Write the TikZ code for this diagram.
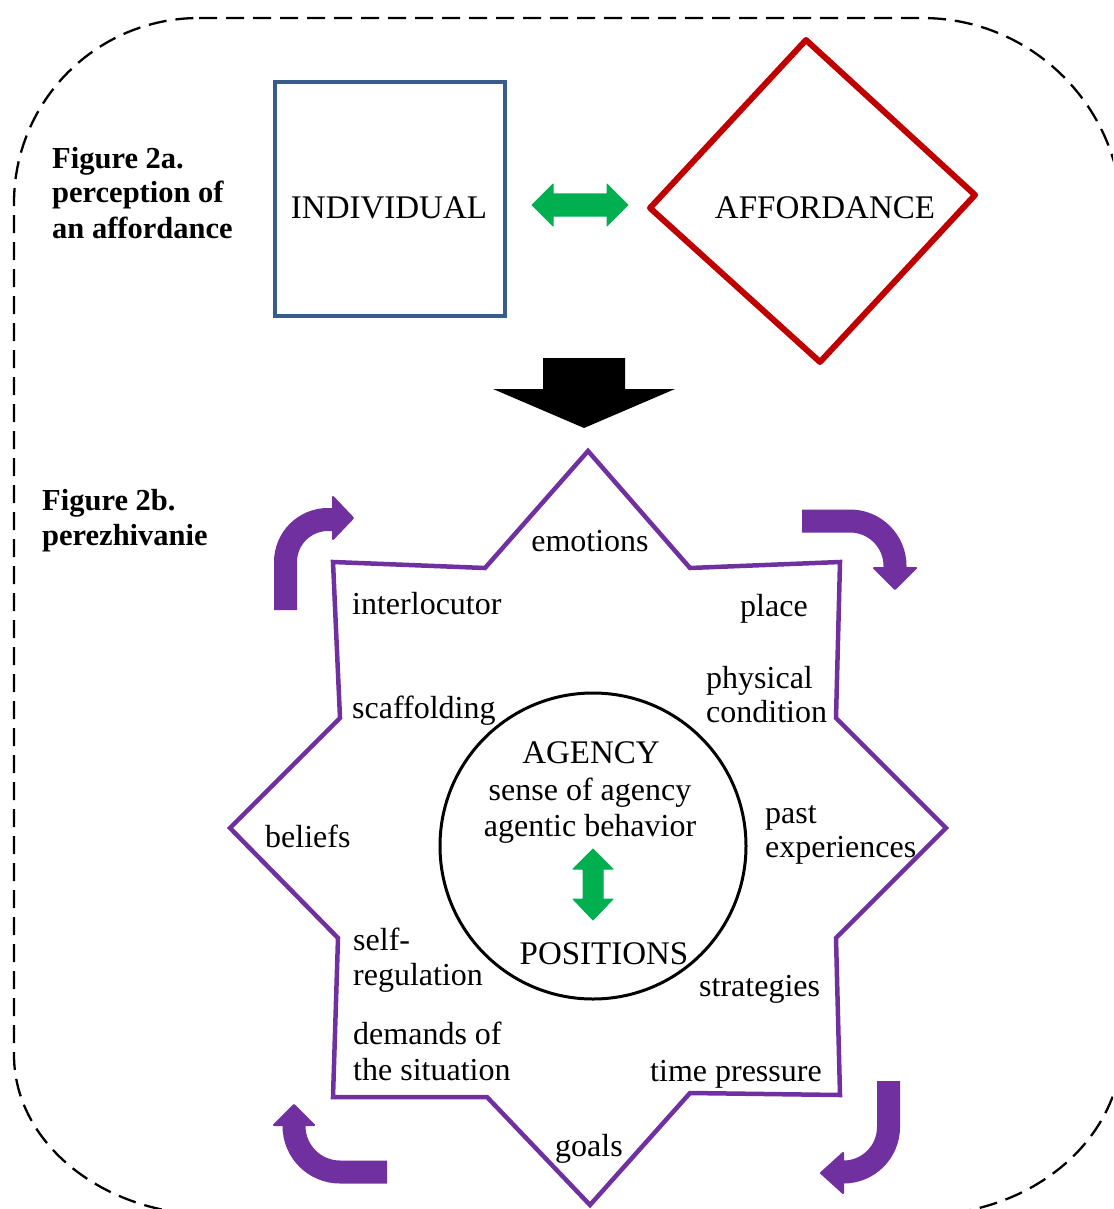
\documentclass[tikz,border=0pt]{standalone}
\usepackage{fontspec}
\setmainfont{Liberation Serif}
\definecolor{pur}{HTML}{7030A0}
\definecolor{grn}{HTML}{00B050}
\definecolor{blu}{HTML}{385D8A}
\definecolor{rd}{HTML}{C00000}
\tikzset{
  txt/.style={font=\fontsize{32}{35}\selectfont, inner sep=0pt, anchor=base west},
  ctxt/.style={font=\fontsize{32}{35}\selectfont, inner sep=0pt, anchor=base},
  btxt/.style={font=\fontsize{30.5}{35}\selectfont\bfseries, inner sep=0pt, anchor=base west},
  captxt/.style={font=\fontsize{33}{35}\selectfont, inner sep=0pt, anchor=base},
  shaft/.style={pur, line width=23pt},
  head/.style={fill=pur, draw=pur, line width=2pt, line join=round},
  garrow/.style={fill=grn, draw=grn, line width=1pt, line join=round}
}
\begin{document}
\begin{tikzpicture}[x=1pt,y=-1pt]
\useasboundingbox (0,0) rectangle (1113,1209);
\clip (0,0) rectangle (1113,1209);
% dashed frame
\draw[black, line width=2.3pt, dash pattern=on 18pt off 9pt]
  (199,18) -- (922,18) .. controls (1032.5,18) and (1122,107.5) .. (1122,218)
  -- (1122,1045) .. controls (1122,1138.9) and (1032.5,1215) .. (922,1215)
  -- (214,1215) .. controls (103.5,1215) and (14,1143.4) .. (14,1055)
  -- (14,203) .. controls (14,100.8) and (96.8,18) .. (199,18) -- cycle;

% Figure 2a labels
\node[btxt] (f2a1) at (52,168) {Figure 2a.};
\node[btxt] (f2a2) at (52,203) {perception of};
\node[btxt] (f2a3) at (52,238) {an affordance};

% individual box
\draw[blu, line width=4.8pt] (275,82) rectangle (505,316);
\node[captxt] (ind) at (389,218) {INDIVIDUAL};

% affordance diamond
\draw[rd, line width=6pt, line join=round] (806,40) -- (975,195) -- (820,362) -- (650,208) -- cycle;
\node[captxt] (aff) at (825,218) {AFFORDANCE};

% green double arrow
\draw[garrow] (532,205) -- (553,184) -- (553,194) -- (607,194) -- (607,184) -- (628,205)
  -- (607,226) -- (607,216) -- (553,216) -- (553,226) -- cycle;

% black down arrow
\fill[black] (543,358) -- (625,358) -- (625,389) -- (675,389) -- (584,428) -- (493,389) -- (543,389) -- cycle;

% Figure 2b label
\node[btxt] (f2b1) at (42,510) {Figure 2b.};
\node[btxt] (f2b2) at (42,545) {perezhivanie};

% star
\draw[pur, line width=4.5pt, line join=miter]
  (588,451) -- (690,568) -- (840,562) -- (836,718) -- (946,828) -- (836,938)
  -- (840,1095) -- (690,1093) -- (590,1205) -- (487,1097) -- (333,1097)
  -- (338,938) -- (230,828) -- (340,718) -- (333,562) -- (485,568) -- cycle;

% circle
\node[draw=black, line width=3pt, circle, minimum size=306pt, inner sep=0pt] (circ) at (593,846) {};

% green vertical arrow
\draw[garrow] (593,849) -- (613,869) -- (603,869) -- (603,899) -- (613,899) -- (593,920)
  -- (573,899) -- (583,899) -- (583,869) -- (573,869) -- cycle;

% curved arrows
\draw[shaft] (285.5,610) -- (285.5,562) .. controls (285.5,538.5) and (304.5,519.5) .. (328,519.5) -- (334,519.5);
\draw[head] (333,497) -- (353,518) -- (333,539) -- cycle;

\draw[shaft] (802,521) -- (850,521) .. controls (874.9,521) and (895,541.1) .. (895,566) -- (895,569);
\draw[head] (874,568) -- (916,568) -- (895,589) -- cycle;

\draw[shaft] (387,1172) -- (340,1172) .. controls (314.6,1172) and (294,1151.4) .. (294,1126) -- (294,1123);
\draw[head] (274,1125) -- (314,1125) -- (294,1105) -- cycle;

\draw[shaft] (888.5,1081) -- (888.5,1127) .. controls (888.5,1151.9) and (868.4,1172) .. (843.5,1172) -- (841,1172);
\draw[head] (843,1153) -- (843,1193) -- (821,1173) -- cycle;

% star texts
\node[ctxt] (emo) at (590,551) {emotions};
\node[txt] (inter) at (352,614) {interlocutor};
\node[txt] (place) at (740,616) {place};
\node[txt] (phys1) at (706,688) {physical};
\node[txt] (phys2) at (706,722) {condition};
\node[txt] (scaf) at (352,718) {scaffolding};
\node[captxt] (agency) at (591,763) {AGENCY};
\node[ctxt] (sense) at (590,800) {sense of agency};
\node[ctxt] (agentic) at (590,836) {agentic behavior};
\node[txt] (past1) at (765,823) {past};
\node[txt] (past2) at (765,857) {experiences};
\node[txt] (beliefs) at (265,847) {beliefs};
\node[txt] (self1) at (353,950) {self-};
\node[txt] (self2) at (353,985) {regulation};
\node[captxt] (pos) at (604,964) {POSITIONS};
\node[txt] (strat) at (699,996) {strategies};
\node[txt] (dem1) at (353,1044) {demands of};
\node[txt] (dem2) at (353,1080) {the situation};
\node[txt] (time) at (650,1081) {time pressure};
\node[ctxt] (goals) at (589,1156) {goals};
\end{tikzpicture}
\end{document}
